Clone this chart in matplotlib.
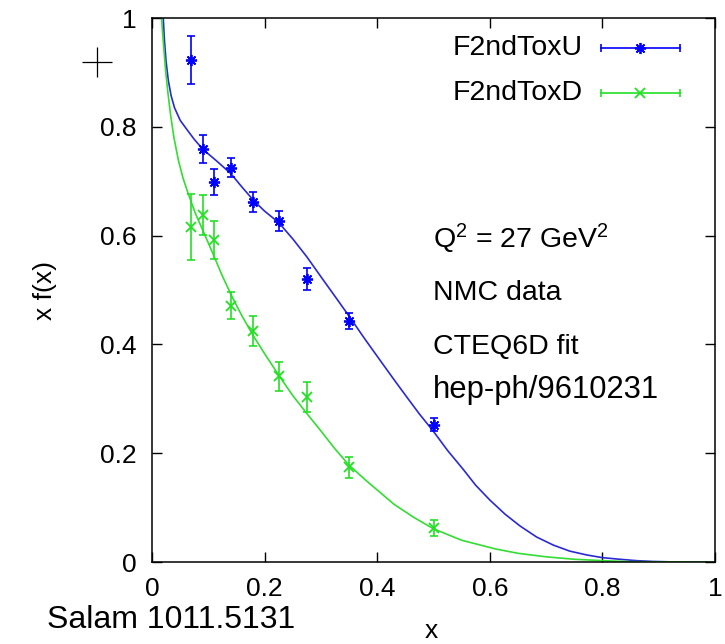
import numpy as np
from matplotlib import pyplot as plt

plt.rcParams['font.family'] = ['Liberation Sans', 'DejaVu Sans']
plt.rcParams['mathtext.default'] = 'regular'

# NMC data points (x, x f(x), error)
x_data = [0.070, 0.090, 0.110, 0.140, 0.180, 0.225, 0.275, 0.350, 0.500]
u_data = [0.923, 0.759, 0.699, 0.725, 0.662, 0.627, 0.520, 0.443, 0.252]
u_err = [0.044, 0.026, 0.024, 0.018, 0.019, 0.019, 0.020, 0.014, 0.012]
d_data = [0.616, 0.638, 0.592, 0.471, 0.425, 0.341, 0.303, 0.174, 0.062]
d_err = [0.061, 0.037, 0.035, 0.025, 0.028, 0.026, 0.027, 0.019, 0.015]

# CTEQ6D fit curves
u_fit_x = [0.020, 0.022, 0.025, 0.029, 0.034, 0.040, 0.050, 0.062, 0.075, 0.090,
           0.115, 0.140, 0.160, 0.181, 0.200, 0.225, 0.250, 0.275, 0.301, 0.328,
           0.350, 0.378, 0.405, 0.430, 0.452, 0.475, 0.500, 0.525, 0.553, 0.575,
           0.600, 0.627, 0.654, 0.683, 0.713, 0.742, 0.772, 0.800, 0.831, 0.860,
           0.890, 0.920, 0.950, 1.000]
u_fit_y = [1.000, 0.960, 0.920, 0.885, 0.857, 0.835, 0.812, 0.795, 0.777, 0.759,
           0.737, 0.714, 0.689, 0.664, 0.645, 0.624, 0.594, 0.561, 0.523, 0.484,
           0.452, 0.410, 0.371, 0.335, 0.304, 0.272, 0.240, 0.205, 0.170, 0.141,
           0.114, 0.088, 0.066, 0.046, 0.031, 0.020, 0.013, 0.008, 0.005, 0.0025,
           0.001, 0.0003, 0.000, 0.000]
d_fit_x = [0.017, 0.019, 0.021, 0.024, 0.028, 0.033, 0.039, 0.047, 0.055, 0.064,
           0.077, 0.091, 0.109, 0.124, 0.142, 0.160, 0.181, 0.200, 0.226, 0.250,
           0.275, 0.300, 0.325, 0.350, 0.380, 0.405, 0.430, 0.465, 0.500, 0.550,
           0.610, 0.650, 0.700, 0.750, 0.790, 0.850, 1.000]
d_fit_y = [1.000, 0.970, 0.944, 0.905, 0.865, 0.822, 0.780, 0.738, 0.706, 0.678,
           0.641, 0.608, 0.565, 0.528, 0.488, 0.452, 0.414, 0.383, 0.342, 0.306,
           0.273, 0.241, 0.208, 0.178, 0.150, 0.128, 0.106, 0.082, 0.061, 0.040,
           0.024, 0.016, 0.0095, 0.005, 0.003, 0.0005, 0.000]

blue_pts = '#0000ff'
blue_line = '#2a2ad2'
green_pts = '#22e022'
green_line = '#33dd33'

fig = plt.figure(figsize=(7.25, 6.44), dpi=100)
ax = fig.add_axes([152/725, 82/644, 563/725, 544/644])

ax.plot(u_fit_x, u_fit_y, color=blue_line, lw=1.2)
ax.plot(d_fit_x, d_fit_y, color=green_line, lw=1.2)

ax.errorbar(x_data, u_data, yerr=u_err, fmt='none', ecolor=blue_pts,
            elinewidth=1.2, capsize=3, capthick=1.2)
ax.plot(x_data, u_data, ls='none', marker=(8, 2, 0), ms=8, mew=1.3, color=blue_pts)
ax.errorbar(x_data, d_data, yerr=d_err, fmt='none', ecolor=green_pts,
            elinewidth=1.2, capsize=3, capthick=1.2)
ax.plot(x_data, d_data, ls='none', marker='x', ms=7, mew=1.3, color=green_pts)

ax.set_xlim(0, 1)
ax.set_ylim(0, 1)
ticks = [0, 0.2, 0.4, 0.6, 0.8, 1]
tick_labels = ['0', '0.2', '0.4', '0.6', '0.8', '1']
ax.set_xticks(ticks)
ax.set_yticks(ticks)
ax.set_xticklabels(tick_labels)
ax.set_yticklabels(tick_labels)
ax.tick_params(direction='in', top=True, right=True, length=7, width=1,
               labelsize=19, pad=11)
for s in ax.spines.values():
    s.set_linewidth(1.1)

ax.set_xlabel('x', fontsize=19)
ax.xaxis.set_label_coords(0.497, -0.104)
ax.set_ylabel('x f(x)', fontsize=19)
ax.yaxis.set_label_coords(-0.168, 0.5)

# legend drawn gnuplot style
for yy, lab, col, mk, ms in [(0.945, 'F2ndToxU', blue_pts, (8, 2, 0), 8),
                             (0.862, 'F2ndToxD', green_pts, 'x', 7)]:
    ax.text(0.7655, yy, lab, transform=ax.transAxes, ha='right', va='center',
            fontsize=20.5)
    ax.plot([0.7975, 0.9378], [yy, yy], transform=ax.transAxes, color=col, lw=1.2)
    ax.plot([0.7975, 0.9378], [yy, yy], transform=ax.transAxes, ls='none',
            marker='|', ms=6, mew=1.2, color=col)
    ax.plot([0.8676], [yy], transform=ax.transAxes, ls='none', marker=mk,
            ms=ms, mew=1.3, color=col)

ax.text(0.499, 0.577, 'Q$^2$ = 27 GeV$^2$', transform=ax.transAxes,
        fontsize=20.5, va='baseline')
ax.text(0.499, 0.482, 'NMC data', transform=ax.transAxes, fontsize=20.5,
        va='baseline')
ax.text(0.499, 0.382, 'CTEQ6D fit', transform=ax.transAxes, fontsize=20.5,
        va='baseline')
ax.text(0.499, 0.301, 'hep-ph/9610231', transform=ax.transAxes, fontsize=22.3,
        va='baseline')

fig.text(47/725, 1 - 628/644, 'Salam 1011.5131', fontsize=23, va='baseline')

# cursor cross left over in the corner
fig.add_artist(plt.Line2D([97/725], [1 - 62/644], marker='+', ms=22, mew=0.9,
                          color='black', ls='none'))

fig.savefig('out.png', dpi=100)
